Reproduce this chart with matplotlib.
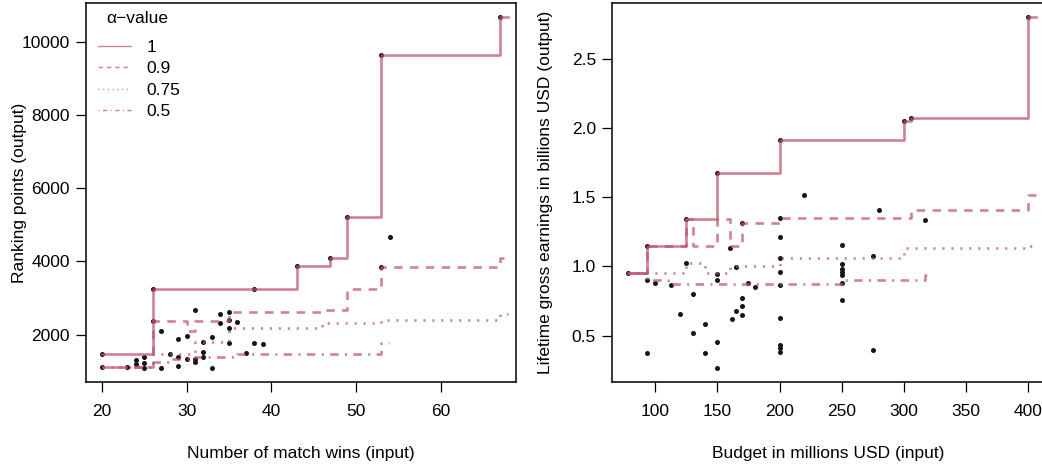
import matplotlib
matplotlib.use("Agg")
import matplotlib.pyplot as plt
from matplotlib.lines import Line2D

# ---- data: left panel (match wins vs ranking points) ----
wins = [20, 26, 38, 43, 47, 49, 53, 67, 26, 20,
        31, 34, 35, 34, 35, 36, 27, 30, 29, 33, 35, 35, 32, 38, 39, 32, 37, 28,
        25, 29, 32, 24, 30, 31, 31, 25, 24, 23, 25, 27, 29, 33, 54, 53]
points = [1480, 3250, 3250, 3890, 4100, 5220, 9640, 10670, 2390, 1114,
          2678, 2569, 2624, 2323, 2413, 2351, 2105, 1977, 1887, 1941, 2187, 1769,
          1797, 1778, 1742, 1540, 1496, 1477, 1396, 1396, 1404, 1314, 1333, 1333,
          1267, 1240, 1204, 1114, 1103, 1103, 1158, 1095, 4678, 3851]

# step functions, one per alpha value (knot x, level y)
left_steps = {
    "1": ([20, 26, 43, 47, 49, 53, 67], [1480, 3250, 3890, 4100, 5220, 9640, 10670]),
    "0.9": ([20, 26, 30, 31, 35, 46, 49, 53, 67], [1114, 2390, 2100, 2390, 2610, 2680, 3250, 3860, 4090]),
    "0.75": ([20, 26, 31, 35, 46, 53, 67], [1114, 1477, 1797, 2190, 2330, 2400, 2570]),
    "0.5": ([20, 26, 28, 31, 36, 53], [1114, 1250, 1340, 1404, 1480, 1769]),
}

# ---- data: right panel (budget vs lifetime gross) ----
budget = [78, 93, 125, 150, 200, 300, 306, 400,
          93, 100, 113, 125, 130, 120, 130, 140, 93, 140, 150, 150, 150, 150,
          160, 165, 170, 170, 165, 162, 170, 175, 180, 170,
          220, 200, 200, 200, 200, 200, 200, 200, 200, 200,
          250, 250, 250, 250, 250, 250, 250, 275, 275, 280, 317]
gross = [0.95, 1.149, 1.341, 1.671, 1.916, 2.05, 2.072, 2.80,
         0.901, 0.882, 0.868, 1.024, 0.799, 0.654, 0.519, 0.587, 0.373, 0.373, 0.452, 0.267, 0.945, 0.90,
         1.130, 0.998, 0.774, 0.716, 0.680, 0.623, 0.647, 0.882, 0.853, 1.313,
         1.519, 1.349, 1.214, 1.060, 0.957, 0.866, 0.625, 0.433, 0.409, 0.385,
         1.154, 1.017, 0.979, 0.959, 0.938, 0.878, 0.760, 1.075, 0.397, 1.404, 1.334]

right_steps = {
    "1": ([78, 93, 125, 150, 200, 300, 306, 400], [0.95, 1.149, 1.341, 1.671, 1.916, 2.05, 2.072, 2.80]),
    "0.9": ([78, 93, 125, 130, 150, 160, 170, 200, 306, 400],
            [0.95, 1.149, 1.341, 1.149, 1.341, 1.149, 1.315, 1.35, 1.406, 1.519]),
    "0.75": ([78, 125, 140, 160, 200, 300, 400], [0.95, 1.024, 0.95, 1.0, 1.06, 1.13, 1.149]),
    "0.5": ([78, 93, 110, 250, 317], [0.95, 0.90, 0.87, 0.90, 0.938]),
}

alphas = ["1", "0.9", "0.75", "0.5"]
styles = {"1": "-", "0.9": (0, (3.2, 2.8)), "0.75": (0, (0.8, 2.6)), "0.5": (0, (0.8, 2.4, 3.2, 2.4))}
line_col = (0.75, 0.32, 0.42, 0.72)


def draw_panel(ax, x, y, steps, xlab, ylab, xticks, yticks):
    ax.plot(x, y, "o", color="#151515", ms=3.6, mec="none", zorder=2)
    xmin, xmax = min(x), max(x)
    ext = 0.02 * (xmax - xmin)
    for a in alphas:
        sx, sy = steps[a]
        sx = list(sx) + [sx[-1] + ext]
        sy = list(sy) + [sy[-1]]
        ax.step(sx, sy, where="post", color=line_col, lw=1.9, linestyle=styles[a], zorder=3)
    pad = 0.04 * (xmax - xmin)
    ax.set_xlim(xmin - pad, xmax + pad)
    ymin, ymax = min(y), max(y)
    pad = 0.04 * (ymax - ymin)
    ax.set_ylim(ymin - pad, ymax + pad)
    ax.set_xticks(xticks)
    ax.set_yticks(yticks)
    ax.tick_params(length=7, width=0.9, labelsize=12.5, pad=4.5)
    ax.tick_params(axis="x", pad=9)
    ax.set_xlabel(xlab, fontsize=12.5, labelpad=19)
    ax.set_ylabel(ylab, fontsize=12.5)
    ax.yaxis.set_label_coords(-0.137, 0.5)
    for s in ax.spines.values():
        s.set_linewidth(1.1)


def plot_quantile_steps():
    plt.rcParams["font.family"] = ["Liberation Sans", "DejaVu Sans"]
    fig = plt.figure(figsize=(10.42, 4.67), dpi=100)
    ax1 = fig.add_axes([0.0825, 0.182, 0.4124, 0.8116])
    ax2 = fig.add_axes([0.5873, 0.182, 0.4146, 0.8116])

    draw_panel(ax1, wins, points, left_steps, "Number of match wins (input)",
               "Ranking points (output)", [20, 30, 40, 50, 60], [2000, 4000, 6000, 8000, 10000])
    draw_panel(ax2, budget, gross, right_steps, "Budget in millions USD (input)",
               "Lifetime gross earnings in billions USD (output)",
               [100, 150, 200, 250, 300, 350, 400], [0.5, 1.0, 1.5, 2.0, 2.5])
    ax2.set_yticklabels(["0.5", "1.0", "1.5", "2.0", "2.5"])

    # legend: title as separate text, entries below it
    ax1.text(0.12, 0.960, "\u03b1\u2212value", transform=ax1.transAxes,
             ha="center", va="center", fontsize=12.5)
    handles = [Line2D([], [], color=line_col, lw=1.0, linestyle=styles[a]) for a in alphas]
    ax1.legend(handles, alphas, loc="upper left", bbox_to_anchor=(0.0, 0.935),
               frameon=False, fontsize=12.5, handlelength=1.9, handletextpad=0.9,
               labelspacing=0.36, borderaxespad=0.3)

    fig.savefig("out.png", dpi=100)


if __name__ == "__main__":
    plot_quantile_steps()
